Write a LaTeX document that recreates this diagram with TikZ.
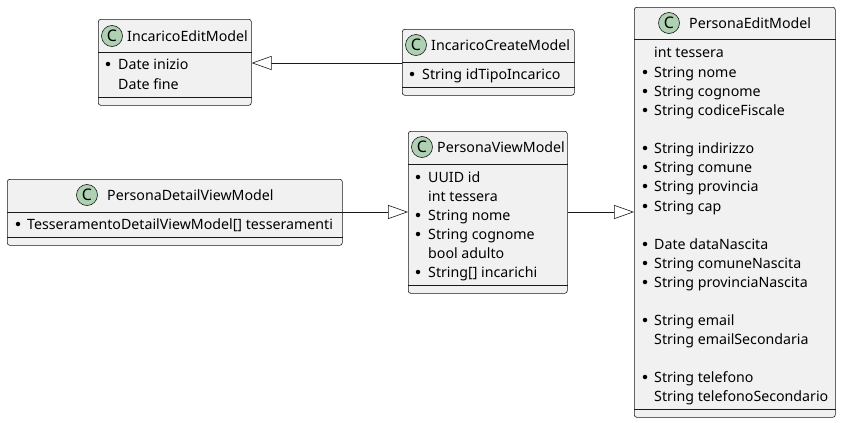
\documentclass[tikz,border=0pt]{standalone}
\usepackage{fontspec}
\setmainfont{Noto Sans}
\usetikzlibrary{arrows.meta}
\definecolor{boxfill}{HTML}{F1F1F1}
\definecolor{boxline}{HTML}{181818}
\definecolor{circfill}{HTML}{ADD1B2}
\tikzset{
  cls/.style={draw=boxline, fill=boxfill, rounded corners=2.5pt, line width=0.6pt, anchor=north west, inner sep=0pt},
  sep/.style={draw=boxline, line width=0.6pt},
  txt/.style={anchor=base west, inner sep=0pt, yshift=-5pt, font=\fontsize{14.2}{16}\selectfont, text=black},
  ccirc/.style={circle, draw=boxline, fill=circfill, line width=0.6pt, minimum size=21pt, inner sep=0pt, font=\fontsize{16}{16}\selectfont\bfseries},
  bul/.style={circle, fill=black, minimum size=4.5pt, inner sep=0pt},
  gen/.style={draw=boxline, line width=0.6pt, -{Triangle[open, length=20pt, width=14pt, fill=white]}},
}
\begin{document}
\begin{tikzpicture}[x=1pt,y=-1pt]
\useasboundingbox (0,0) rectangle (841,423);
% IncaricoEditModel
\node[cls, minimum width=153pt, minimum height=86pt] (ie) at (98,19) {};
\draw[sep] (ie.west |- 0,52) -- (ie.east |- 0,52);
\draw[sep] (ie.west |- 0,97) -- (ie.east |- 0,97);
\node[ccirc] (iec) at (112,36) {C};
\node[txt] (ien) at (127,36) {IncaricoEditModel};
\node[bul] (ieb1) at (108,64) {};
\node[txt] (ie1) at (118,64) {Date inizio};
\node[txt] (ie2) at (118,84) {Date fine};
% IncaricoCreateModel
\node[cls, minimum width=172pt, minimum height=66pt] (ic) at (402,29) {};
\draw[sep] (ic.west |- 0,62) -- (ic.east |- 0,62);
\draw[sep] (ic.west |- 0,87) -- (ic.east |- 0,87);
\node[ccirc] (icc) at (416,45) {C};
\node[txt] (icn) at (431,45) {IncaricoCreateModel};
\node[bul] (icb1) at (412,74) {};
\node[txt] (ic1) at (422,74) {String idTipoIncarico};
% PersonaEditModel
\node[cls, minimum width=201pt, minimum height=410pt] (pe) at (634,7) {};
\draw[sep] (pe.west |- 0,39) -- (pe.east |- 0,39);
\draw[sep] (pe.west |- 0,409) -- (pe.east |- 0,409);
\node[ccirc] (pec) at (669,23) {C};
\node[txt] (pen) at (689,23) {PersonaEditModel};
\node[txt] (pe1) at (654,52) {int tessera};
\node[bul] (peb2) at (645,72) {};
\node[txt] (pe2) at (654,72) {String nome};
\node[bul] (peb3) at (645,91) {};
\node[txt] (pe3) at (654,91) {String cognome};
\node[bul] (peb4) at (645,110) {};
\node[txt] (pe4) at (654,110) {String codiceFiscale};
\node[bul] (peb5) at (645,148) {};
\node[txt] (pe5) at (654,148) {String indirizzo};
\node[bul] (peb6) at (645,167) {};
\node[txt] (pe6) at (654,167) {String comune};
\node[bul] (peb7) at (645,186) {};
\node[txt] (pe7) at (654,186) {String provincia};
\node[bul] (peb8) at (645,206) {};
\node[txt] (pe8) at (654,206) {String cap};
\node[bul] (peb9) at (645,244) {};
\node[txt] (pe9) at (654,244) {Date dataNascita};
\node[bul] (peb10) at (645,263) {};
\node[txt] (pe10) at (654,263) {String comuneNascita};
\node[bul] (peb11) at (645,282) {};
\node[txt] (pe11) at (654,282) {String provinciaNascita};
\node[bul] (peb12) at (645,320) {};
\node[txt] (pe12) at (654,320) {String email};
\node[txt] (pe13) at (654,339) {String emailSecondaria};
\node[bul] (peb14) at (645,377) {};
\node[txt] (pe14) at (654,377) {String telefono};
\node[txt] (pe15) at (654,396) {String telefonoSecondario};
% PersonaDetailViewModel
\node[cls, minimum width=335pt, minimum height=66pt] (pd) at (7,179) {};
\draw[sep] (pd.west |- 0,212) -- (pd.east |- 0,212);
\draw[sep] (pd.west |- 0,237) -- (pd.east |- 0,237);
\node[ccirc] (pdc) at (87,195) {C};
\node[txt] (pdn) at (107,195) {PersonaDetailViewModel};
\node[bul] (pdb1) at (18,224) {};
\node[txt] (pd1) at (27,224) {TesseramentoDetailViewModel[] tesseramenti};
% PersonaViewModel
\node[cls, minimum width=159pt, minimum height=162pt] (pv) at (408,131) {};
\draw[sep] (pv.west |- 0,164) -- (pv.east |- 0,164);
\draw[sep] (pv.west |- 0,285) -- (pv.east |- 0,285);
\node[ccirc] (pvc) at (422,147) {C};
\node[txt] (pvn) at (437,147) {PersonaViewModel};
\node[bul] (pvb1) at (418,177) {};
\node[txt] (pv1) at (428,177) {UUID id};
\node[txt] (pv2) at (428,196) {int tessera};
\node[bul] (pvb3) at (418,215) {};
\node[txt] (pv3) at (428,215) {String nome};
\node[bul] (pvb4) at (418,234) {};
\node[txt] (pv4) at (428,234) {String cognome};
\node[txt] (pv5) at (428,253) {bool adulto};
\node[bul] (pvb6) at (418,272) {};
\node[txt] (pv6) at (428,272) {String[] incarichi};
% generalizations
\draw[gen] (ic.west |- 0,63) -- (ie.east |- 0,63);
\draw[gen] (pd.east |- 0,212) -- (pv.west |- 0,212);
\draw[gen] (pv.east |- 0,212) -- (pe.west |- 0,212);
\end{tikzpicture}
\end{document}
